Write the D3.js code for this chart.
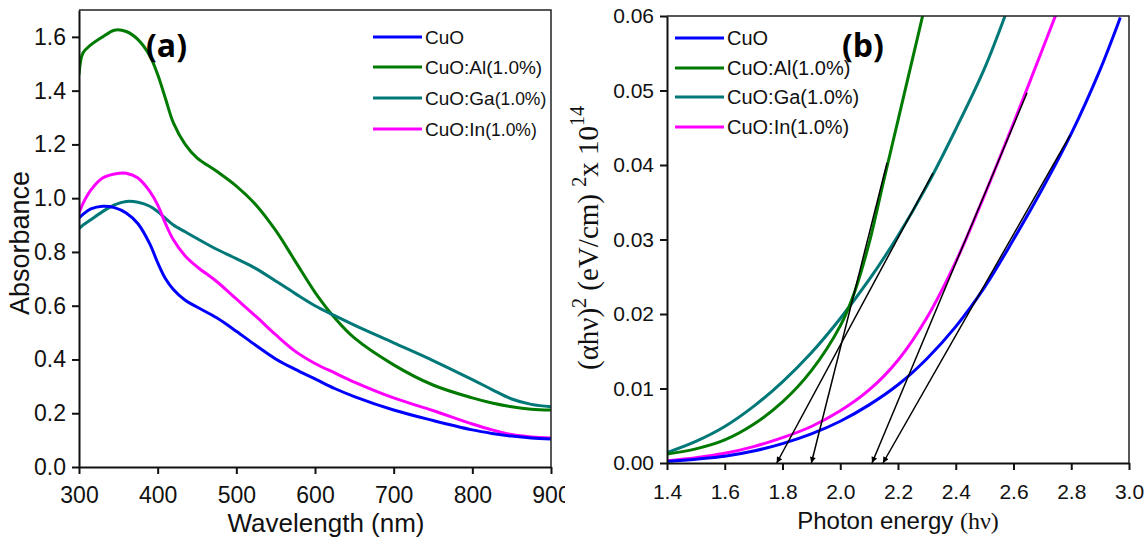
<!DOCTYPE html>
<html>
<head>
<meta charset="utf-8">
<script src="https://cdn.jsdelivr.net/npm/d3@7"></script>
<style>
body { margin: 0; background: #fff; }
svg { display: block; font-family: Arial, "Liberation Sans", sans-serif; }
</style>
</head>
<body>
<svg id="chart" width="1148" height="546"></svg>
<script>
/* Series names and colours (same order in both panels) */
var seriesNames = ["CuO", "CuO:Al(1.0%)", "CuO:Ga(1.0%)", "CuO:In(1.0%)"];
var seriesColors = ["#0000ff", "#007a00", "#007878", "#ff00ff"];

/* Panel (a): absorbance vs wavelength */
var wavelength = [300,305,315,330,345,360,375,390,400,410,420,435,450,475,500,525,550,575,600,625,650,700,750,800,825,850,875,900];
var absCuO = [0.926,0.94,0.96,0.97,0.965,0.945,0.905,0.83,0.76,0.70,0.66,0.62,0.595,0.555,0.505,0.452,0.402,0.363,0.328,0.292,0.262,0.212,0.173,0.138,0.125,0.115,0.108,0.104];
var absAl  = [1.46,1.54,1.57,1.60,1.625,1.62,1.59,1.53,1.46,1.37,1.28,1.20,1.15,1.10,1.045,0.975,0.88,0.765,0.65,0.555,0.48,0.38,0.305,0.257,0.238,0.224,0.215,0.212];
var absGa  = [0.886,0.90,0.92,0.95,0.975,0.988,0.985,0.97,0.95,0.925,0.90,0.875,0.85,0.81,0.775,0.738,0.692,0.645,0.60,0.563,0.528,0.462,0.396,0.325,0.288,0.253,0.233,0.224];
var absIn  = [0.945,0.98,1.03,1.075,1.09,1.093,1.075,1.025,0.975,0.905,0.845,0.785,0.745,0.69,0.625,0.56,0.492,0.43,0.385,0.35,0.316,0.257,0.21,0.16,0.138,0.121,0.112,0.108];

/* Panel (b): (alpha h nu)^2 vs photon energy */
var eCuO = [1.4,1.5,1.6,1.7,1.8,1.9,2.0,2.1,2.2,2.3,2.4,2.5,2.6,2.7,2.8,2.9,2.97];
var tCuO = [0.0002,0.0005,0.0009,0.0016,0.0026,0.0039,0.0056,0.0078,0.0105,0.014,0.0183,0.0236,0.03,0.0368,0.0442,0.0528,0.0598];
var eAl  = [1.4,1.5,1.6,1.7,1.8,1.9,2.0,2.05,2.1,2.15,2.2,2.25,2.29];
var tAl  = [0.0012,0.0019,0.0031,0.0052,0.0082,0.0124,0.0184,0.023,0.0295,0.0378,0.046,0.0542,0.0608];
var eGa  = [1.4,1.5,1.6,1.7,1.8,1.9,2.0,2.1,2.2,2.3,2.4,2.5,2.58];
var tGa  = [0.0014,0.0029,0.0049,0.0076,0.0109,0.0148,0.0194,0.0246,0.0305,0.0372,0.0448,0.053,0.061];
var eIn  = [1.4,1.5,1.6,1.7,1.8,1.9,2.0,2.1,2.2,2.3,2.4,2.5,2.6,2.7,2.75];
var tIn  = [0.0003,0.0007,0.0013,0.0022,0.0034,0.0049,0.007,0.0098,0.0138,0.0195,0.027,0.036,0.0456,0.0555,0.0605];

/* Linear fits (arrow tip on the energy axis, upper end on the curve) */
var fitTipE = [1.78, 1.90, 2.11, 2.148];
var fitEndE = [2.321, 2.162, 2.647, 2.796];
var fitEndV = [0.0389, 0.0403, 0.0497, 0.044];

var svg = d3.select("#chart");

svg.append("defs").append("marker")
    .attr("id", "arrow")
    .attr("viewBox", "0 0 10 10")
    .attr("refX", 10).attr("refY", 5)
    .attr("markerUnits", "userSpaceOnUse")
    .attr("markerWidth", 11).attr("markerHeight", 6)
    .attr("orient", "auto")
    .append("path").attr("d", "M0,0L10,5L0,10z").attr("fill", "#000");

function zip(xs, ys) {
    return xs.map(function (d, i) { return [d, ys[i]]; });
}

/* axes with major + minor outward ticks and a thin top/right frame */
function drawAxes(g, x, y, o) {
    var x0 = x.range()[0], x1 = x.range()[1];
    var yb = y.range()[0], yt = y.range()[1];

    var gx = g.append("g").attr("transform", "translate(0," + yb + ")");
    gx.call(d3.axisBottom(x).tickValues(o.xMinor).tickFormat("").tickSize(4).tickSizeOuter(0));
    gx.select(".domain").remove();
    gx.call(d3.axisBottom(x).tickValues(o.xMajor).tickFormat(o.xFmt).tickSize(7).tickSizeOuter(0));

    var gy = g.append("g").attr("transform", "translate(" + x0 + ",0)");
    gy.call(d3.axisLeft(y).tickValues(o.yMinor).tickFormat("").tickSize(4).tickSizeOuter(0));
    gy.select(".domain").remove();
    gy.call(d3.axisLeft(y).tickValues(o.yMajor).tickFormat(o.yFmt).tickSize(7).tickSizeOuter(0));

    [gx, gy].forEach(function (a) {
        a.selectAll("path.domain").attr("stroke", "#111").attr("stroke-width", 2);
        a.selectAll("line").attr("stroke", "#111").attr("stroke-width", 2);
        a.selectAll("text").attr("fill", "#111")
            .style("font-size", o.fontSize + "px")
            .style("font-family", "Arial, 'Liberation Sans', sans-serif");
    });
    gx.selectAll("text").attr("y", o.labelDrop).attr("dy", null);
    gy.selectAll("text").attr("x", -13);

    g.append("path")
        .attr("d", "M" + x0 + "," + yt + "H" + x1 + "V" + yb)
        .attr("fill", "none").attr("stroke", "#222").attr("stroke-width", 1.5);
}

function drawLegend(g, x, ys, fontSize, smallParen) {
    seriesNames.forEach(function (name, i) {
        g.append("line")
            .attr("x1", x).attr("x2", x + 49)
            .attr("y1", ys[i]).attr("y2", ys[i])
            .attr("stroke", seriesColors[i]).attr("stroke-width", 3);
        var t = g.append("text")
            .attr("x", x + 52).attr("y", ys[i] + 7)
            .attr("fill", "#111").style("font-size", fontSize + "px");
        var k = name.indexOf("(");
        if (smallParen && (i === 2 || i === 3)) {
            t.append("tspan").text(name.slice(0, k));
            t.append("tspan").style("font-size", (fontSize - 1.5) + "px").text(name.slice(k));
        } else {
            t.text(name);
        }
    });
}

/* ---------- Panel (a) ---------- */
var xa = d3.scaleLinear().domain([300, 900]).range([79, 551]);
var ya = d3.scaleLinear().domain([0, 1.7]).range([467, 10]);
var ga = svg.append("g");

ga.append("clipPath").attr("id", "clipA").append("rect")
    .attr("x", 79).attr("y", 10).attr("width", 472).attr("height", 457);

var absSeries = [absCuO, absAl, absGa, absIn];
var lineA = d3.line()
    .x(function (d) { return xa(d[0]); })
    .y(function (d) { return ya(d[1]); })
    .curve(d3.curveCatmullRom.alpha(0.5));

[1, 2, 3, 0].forEach(function (i) {
    ga.append("path")
        .attr("d", lineA(zip(wavelength, absSeries[i])))
        .attr("clip-path", "url(#clipA)")
        .attr("fill", "none")
        .attr("stroke", seriesColors[i])
        .attr("stroke-width", 3);
});

drawAxes(ga, xa, ya, {
    xMajor: d3.range(300, 901, 100), xMinor: d3.range(350, 900, 100),
    yMajor: [0, 0.2, 0.4, 0.6, 0.8, 1.0, 1.2, 1.4, 1.6],
    yMinor: [0.1, 0.3, 0.5, 0.7, 0.9, 1.1, 1.3, 1.5],
    xFmt: d3.format("d"), yFmt: d3.format(".1f"), fontSize: 23, labelDrop: 36
});

drawLegend(ga, 373, [37, 67, 98, 129], 19, true);

ga.append("text")
    .attr("transform", "translate(29,243) rotate(-90)")
    .attr("text-anchor", "middle").attr("fill", "#111")
    .style("font-size", "27px").text("Absorbance");

ga.append("text")
    .attr("x", 326).attr("y", 532)
    .attr("text-anchor", "middle").attr("fill", "#111")
    .style("font-size", "26px").text("Wavelength (nm)");

ga.append("text")
    .attr("x", 146).attr("y", 57)
    .attr("fill", "#000")
    .style("font-family", "'Open Sans', sans-serif")
    .style("font-weight", "bold").style("font-size", "32px")
    .text("(a)");

/* panel (b) sits on its own white sheet, cutting the last "900" label */
svg.append("rect").attr("x", 565).attr("y", 0).attr("width", 583).attr("height", 546).attr("fill", "#fff");

/* ---------- Panel (b) ---------- */
var xb = d3.scaleLinear().domain([1.4, 3.0]).range([667, 1129]);
var yb = d3.scaleLinear().domain([0, 0.06]).range([463, 16]);
var gb = svg.append("g");

gb.append("clipPath").attr("id", "clipB").append("rect")
    .attr("x", 667).attr("y", 16).attr("width", 462).attr("height", 447);

var tSeries = [zip(eCuO, tCuO), zip(eAl, tAl), zip(eGa, tGa), zip(eIn, tIn)];
var lineB = d3.line()
    .x(function (d) { return xb(d[0]); })
    .y(function (d) { return yb(d[1]); })
    .curve(d3.curveCatmullRom.alpha(0.5));

[2, 1, 3, 0].forEach(function (i) {
    gb.append("path")
        .attr("d", lineB(tSeries[i]))
        .attr("clip-path", "url(#clipB)")
        .attr("fill", "none")
        .attr("stroke", seriesColors[i])
        .attr("stroke-width", 3);
});

fitTipE.forEach(function (e, i) {
    gb.append("line")
        .attr("x1", xb(fitEndE[i])).attr("y1", yb(fitEndV[i]))
        .attr("x2", xb(e)).attr("y2", yb(0))
        .attr("stroke", "#000").attr("stroke-width", 1.5)
        .attr("marker-end", "url(#arrow)");
});

drawAxes(gb, xb, yb, {
    xMajor: [1.4, 1.6, 1.8, 2.0, 2.2, 2.4, 2.6, 2.8, 3.0],
    xMinor: [1.5, 1.7, 1.9, 2.1, 2.3, 2.5, 2.7, 2.9],
    yMajor: [0, 0.01, 0.02, 0.03, 0.04, 0.05, 0.06],
    yMinor: [0.005, 0.015, 0.025, 0.035, 0.045, 0.055],
    xFmt: d3.format(".1f"), yFmt: d3.format(".2f"), fontSize: 21, labelDrop: 36
});

drawLegend(gb, 675, [38, 68, 97, 127], 20, false);

var yt = gb.append("text")
    .attr("transform", "translate(598,238) rotate(-90)")
    .attr("text-anchor", "middle").attr("fill", "#111")
    .style("font-family", "'Liberation Serif', 'Times New Roman', serif")
    .style("font-size", "29px");
yt.append("tspan").text("(\u03b1h\u03bd)");
yt.append("tspan").attr("dy", -12).style("font-size", "20px").text("2");
yt.append("tspan").attr("dy", 12).text(" (eV/cm) ");
yt.append("tspan").attr("dy", -12).style("font-size", "20px").text("2");
yt.append("tspan").attr("dy", 12).text("x 10");
yt.append("tspan").attr("dy", -14).style("font-size", "20px").text("14");

var xt = gb.append("text")
    .attr("x", 898).attr("y", 529)
    .attr("text-anchor", "middle").attr("fill", "#111")
    .style("font-size", "24px");
xt.append("tspan").text("Photon energy ");
xt.append("tspan").style("font-family", "'Liberation Serif', 'Times New Roman', serif").text("(h\u03bd)");

gb.append("text")
    .attr("x", 842).attr("y", 57)
    .attr("fill", "#000")
    .style("font-family", "'Open Sans', sans-serif")
    .style("font-weight", "bold").style("font-size", "32px")
    .text("(b)");
</script>
</body>
</html>
